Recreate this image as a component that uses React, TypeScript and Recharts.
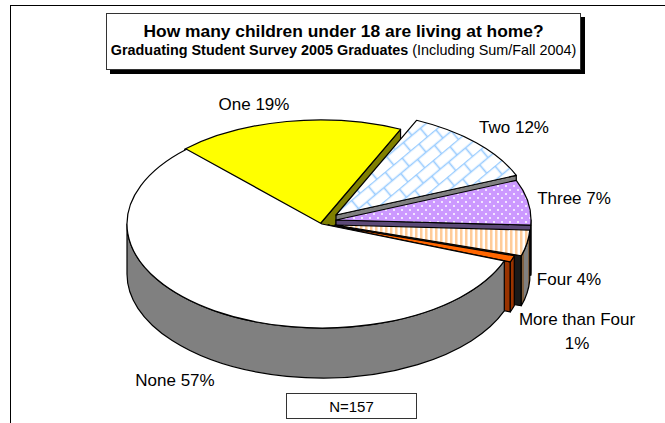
import { PieChart, Pie } from 'recharts'

const categories = ['One', 'Two', 'Three', 'Four', 'More than Four', 'None']
const percents = [19, 12, 7, 4, 1, 57]

const FONT = '"Liberation Sans", Arial, sans-serif'
const TILT = 104 / 195
const DEPTH = 50

// how far each wedge is pulled away from the chart's centre (dx, dy)
const explode = [[-2, 0], [14, -9], [14, -4], [13, 1], [6, 1], [0, 0]]
const topFill = ['#ffff00', 'url(#brick)', 'url(#dots)', 'url(#stripes)', '#ff6600', '#ffffff']
const sideFill = ['#808000', '#808080', '#5c4a78', '#1a1a1a', '#993300', '#808080']
const wallFill = ['#808000', '#808080', '#8a78a8', 'url(#wallStripes)', '#993300', '#808080']
const labelPos = [[254, 110], [514, 133], [574, 204], [569, 285], [577, 325], [175, 386]]

const rows = categories.map((name, i) => ({ name, value: percents[i] }))

const rad = (a: number) => (a * Math.PI) / 180

function Wedge(props: any) {
  const { cx, cy, outerRadius: r, startAngle, endAngle, index } = props
  const [dx, dy] = explode[index]
  const x0 = cx + dx
  const y0 = cy + dy
  const ry = r * TILT
  const px = (a: number) => x0 + r * Math.cos(rad(a))
  const py = (a: number) => y0 - ry * Math.sin(rad(a))
  const large = startAngle - endAngle > 180 ? 1 : 0
  const top = `M${x0},${y0} L${px(startAngle)},${py(startAngle)} A${r},${ry} 0 ${large} 1 ${px(endAngle)},${py(endAngle)} Z`

  // outer rim only shows along the front half of the ellipse
  const a = Math.min(startAngle, 0)
  const b = Math.max(endAngle, -180)
  const wall = a > b
    ? `M${px(a)},${py(a)} A${r},${ry} 0 0 1 ${px(b)},${py(b)} L${px(b)},${py(b) + DEPTH} A${r},${ry} 0 0 0 ${px(a)},${py(a) + DEPTH} Z`
    : null

  // the cut face under the trailing edge faces the viewer on the right side
  const face = Math.cos(rad(endAngle)) > 0
    ? `M${x0},${y0} L${px(endAngle)},${py(endAngle)} L${px(endAngle)},${py(endAngle) + DEPTH} L${x0},${y0 + DEPTH} Z`
    : null

  return (
    <g stroke="#000" strokeWidth={1.2} strokeLinejoin="round">
      {face && <path d={face} fill={sideFill[index]} />}
      {wall && <path d={wall} fill={wallFill[index]} />}
      <path d={top} fill={topFill[index]} />
    </g>
  )
}

function SliceLabel({ index, name, value }: any) {
  const [x, y] = labelPos[index]
  const common = { textAnchor: 'middle' as const, fontFamily: FONT, fontSize: 17, fill: '#000', stroke: 'none' }
  if (name === 'More than Four') {
    return (
      <text {...common}>
        <tspan x={x} y={y}>{name}</tspan>
        <tspan x={x} y={y + 24}>{value}%</tspan>
      </text>
    )
  }
  return <text {...common} x={x} y={y}>{name} {value}%</text>
}

function Patterns() {
  return (
    <svg width={0} height={0} style={{ position: 'absolute' }}>
      <defs>
        <pattern id="brick" width={22} height={22} patternUnits="userSpaceOnUse" patternTransform="rotate(-40) translate(3 5)">
          <rect width={22} height={22} fill="#fff" />
          <path d="M0,0.5H22 M0,11.5H22 M5.5,0V11 M16.5,11V22" stroke="#99ccff" strokeWidth={1.6} fill="none" />
        </pattern>
        <pattern id="dots" width={8} height={8} patternUnits="userSpaceOnUse">
          <rect width={8} height={8} fill="#cc99ff" />
          <circle cx={2} cy={2} r={1} fill="#fff" />
          <circle cx={6} cy={6} r={1} fill="#fff" />
        </pattern>
        <pattern id="stripes" width={5} height={5} patternUnits="userSpaceOnUse">
          <rect width={5} height={5} fill="#fff" />
          <rect width={2.5} height={5} fill="#ffcc99" />
        </pattern>
        <pattern id="wallStripes" width={8} height={8} patternUnits="userSpaceOnUse">
          <rect width={8} height={8} fill="#808080" />
          <rect width={4} height={8} fill="#806040" />
        </pattern>
      </defs>
    </svg>
  )
}

export default function App() {
  return (
    <div style={{ position: 'absolute', left: 0, top: 0, width: 665, height: 423, background: '#fff', overflow: 'hidden', fontFamily: FONT }}>
      <Patterns />
      <div style={{ position: 'absolute', left: 10, top: 5, width: 655, height: 418, borderLeft: '1px solid #000', borderTop: '1px solid #000' }} />
      <PieChart width={665} height={423} margin={{ top: 0, right: 0, bottom: 0, left: 0 }} style={{ position: 'absolute', left: 0, top: 0 }}>
        <Pie
          data={rows}
          dataKey="value"
          nameKey="name"
          cx={322}
          cy={224}
          outerRadius={195}
          startAngle={134}
          endAngle={-226}
          shape={Wedge}
          label={SliceLabel}
          labelLine={false}
          isAnimationActive={false}
        />
      </PieChart>
      <div style={{
        position: 'absolute', left: 106, top: 13, width: 473, height: 55, background: '#fff',
        border: '1px solid #333', boxShadow: '4px 4px 0 #000', textAlign: 'center', color: '#000',
      }}>
        <div style={{ fontSize: 17.4, fontWeight: 700, marginTop: 7, lineHeight: '20px' }}>How many children under 18 are living at home?</div>
        <div style={{ fontSize: 14.4, lineHeight: '18px', whiteSpace: 'nowrap' }}>
          <b>Graduating Student Survey 2005 Graduates</b> (Including Sum/Fall 2004)
        </div>
      </div>
      <div style={{
        position: 'absolute', left: 286, top: 393, width: 129, height: 24, background: '#fff',
        border: '1px solid #333', textAlign: 'center', fontSize: 15, lineHeight: '25px', color: '#000',
      }}>
        N=157
      </div>
    </div>
  )
}
